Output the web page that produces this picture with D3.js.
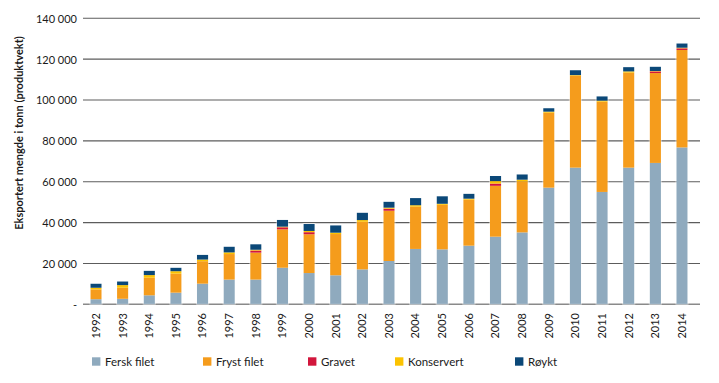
<!DOCTYPE html>
<html>
<head>
<meta charset="utf-8">
<script src="https://cdnjs.cloudflare.com/ajax/libs/d3/7.8.5/d3.min.js"></script>
<style>
  html, body { margin: 0; padding: 0; background: #fff; }
  svg { display: block; }
  text { font-family: "Lato", "Open Sans", sans-serif; fill: #1a1a1a; }
</style>
</head>
<body>
<svg id="chart" width="719" height="383"></svg>
<script>
const years = ["1992","1993","1994","1995","1996","1997","1998","1999","2000","2001","2002","2003","2004","2005","2006","2007","2008","2009","2010","2011","2012","2013","2014"];
const ferskFilet  = [2500, 2700, 4400, 5700, 10100, 12100, 12100, 17900, 15300, 14200, 17100, 21200, 27100, 26900, 28700, 33100, 35200, 57100, 66900, 55000, 66900, 69200, 76800];
const frystFilet  = [4800, 5400, 8600, 9300, 11000, 12500, 13200, 18800, 19000, 20200, 23300, 24600, 20700, 21800, 22500, 24900, 25000, 36700, 45000, 44200, 46500, 44000, 47700];
const gravet      = [0, 0, 0, 0, 0, 0, 1000, 1000, 1000, 0, 0, 1000, 0, 0, 0, 1100, 0, 0, 0, 0, 0, 800, 800];
const konservert  = [800, 1300, 1300, 1200, 800, 800, 400, 300, 600, 650, 830, 500, 700, 500, 500, 1200, 800, 500, 300, 500, 600, 200, 300];
const roykt       = [2000, 1800, 2100, 1700, 2300, 2800, 2700, 3300, 3400, 3600, 3600, 2900, 3500, 3700, 2400, 2500, 2600, 1700, 2400, 2100, 2100, 2100, 2100];

const seriesNames = ["Fersk filet", "Fryst filet", "Gravet", "Konservert", "Røykt"];
const seriesValues = [ferskFilet, frystFilet, gravet, konservert, roykt];
const seriesColors = ["#8faabe", "#f59c1c", "#d2163c", "#fcc300", "#0b4878"];
const yTicks = [0, 20000, 40000, 60000, 80000, 100000, 120000, 140000];

const svg = d3.select("#chart");

const x = d3.scaleBand().domain(years).range([82.7, 695.3]).paddingInner(0.58).paddingOuter(0.29);
const y = d3.scaleLinear().domain([0, 140000]).range([304.3, 18.3]);

const fmt = v => v === 0 ? "-" : d3.format(",")(v).replace(/,/g, "\u2009").replace("\u2009", " ");

// gridlines
const grid = svg.append("g");
grid.selectAll("line").data(yTicks).join("line")
  .attr("x1", 83).attr("x2", 700)
  .attr("y1", d => y(d)).attr("y2", d => y(d))
  .attr("stroke", d => d === 0 ? "#8a8a8a" : "#5c5c5c")
  .attr("stroke-width", d => d === 0 ? 1.6 : 1.1);

// y labels
const yAxis = d3.axisLeft(y).tickValues(yTicks).tickSize(0).tickPadding(0)
  .tickFormat(d => d === 0 ? "-" : (d3.format(",")(d).replace(/,/g, " ")));
const ya = svg.append("g").attr("transform", "translate(77,0)").call(yAxis);
ya.select(".domain").remove();
ya.selectAll("text").style("font-family", "Lato, 'Open Sans', sans-serif").style("font-size", "11px").attr("fill", "#1a1a1a")
  .attr("dy", "0.35em");

// stacked data
const table = years.map((yr, i) => {
  const o = { year: yr };
  seriesNames.forEach((s, k) => o[s] = seriesValues[k][i]);
  return o;
});
const stack = d3.stack().keys(seriesNames)(table);

const bars = svg.append("g");
stack.forEach((layer, k) => {
  bars.append("g").attr("fill", seriesColors[k])
    .selectAll("rect").data(layer.filter(d => d[1] - d[0] > 0)).join("rect")
    .attr("x", d => x(d.data.year))
    .attr("width", x.bandwidth())
    .attr("y", d => y(d[1]))
    .attr("height", d => y(d[0]) - y(d[1]));
});
// light outline around each bar
svg.append("g").selectAll("rect").data(table).join("rect")
  .attr("x", d => x(d.year) - 0.5)
  .attr("width", x.bandwidth() + 1)
  .attr("y", d => y(seriesNames.reduce((a, s) => a + d[s], 0)) - 0.5)
  .attr("height", d => y(0) - y(seriesNames.reduce((a, s) => a + d[s], 0)) + 0.5)
  .attr("fill", "none").attr("stroke", "#ffffff").attr("stroke-opacity", 0.45).attr("stroke-width", 1);

// x labels
const xAxis = d3.axisBottom(x).tickSize(0).tickPadding(0);
const xa = svg.append("g").attr("transform", "translate(0,313)").call(xAxis);
xa.select(".domain").remove();
xa.selectAll("text")
  .style("font-family", "Lato, 'Open Sans', sans-serif").style("font-size", "11px").attr("fill", "#1a1a1a")
  .attr("transform", "rotate(-90)")
  .attr("text-anchor", "end")
  .attr("x", 0).attr("y", 0).attr("dy", "0.35em");

// y title
svg.append("text")
  .attr("transform", "translate(23,133) rotate(-90)")
  .attr("text-anchor", "middle")
  .style("font-size", "11px").style("font-weight", "bold")
  .text("Eksportert mengde i tonn (produktvekt)");

// legend
const legendX = [92, 203, 308, 395, 515];
const leg = svg.append("g");
seriesNames.forEach((s, k) => {
  leg.append("rect").attr("x", legendX[k]).attr("y", 357.3).attr("width", 8.4).attr("height", 8.4).attr("fill", seriesColors[k]);
  leg.append("text").attr("x", legendX[k] + 13).attr("y", 365.5).style("font-size", "11.5px").text(s);
});
</script>
</body>
</html>
